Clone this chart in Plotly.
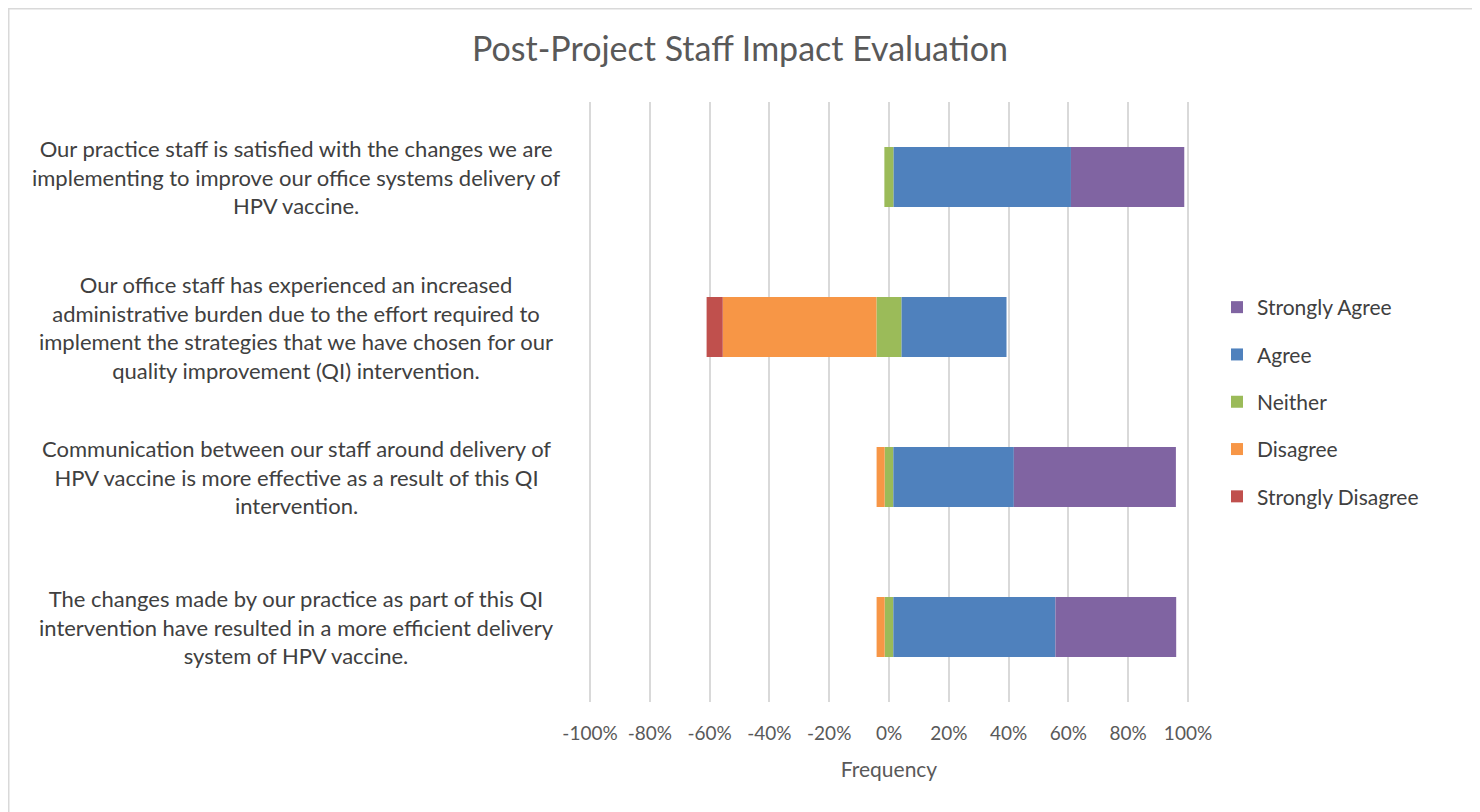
import plotly.graph_objects as go

categories = [
    "Our practice staff is satisfied with the changes we are<br>implementing to improve our office systems delivery of<br>HPV vaccine.",
    "Our office staff has experienced an increased<br>administrative burden due to the effort required to<br>implement the strategies that we have chosen for our<br>quality improvement (QI) intervention.",
    "Communication between our staff around delivery of<br>HPV vaccine is more effective as a result of this QI<br>intervention.",
    "The changes made by our practice as part of this QI<br>intervention have resulted in a more efficient delivery<br>system of HPV vaccine.",
]
keys = ["q1", "q2", "q3", "q4"]

strongly_disagree = [0.0, 5.4, 0.0, 0.0]
disagree = [0.0, 51.4, 2.7, 2.7]
neither = [3.1, 8.4, 2.9, 2.9]
agree = [59.3, 35.1, 40.3, 54.2]
strongly_agree = [37.9, 0.0, 54.2, 40.4]

tick_vals = [-100, -80, -60, -40, -20, 0, 20, 40, 60, 80, 100]
tick_text = ["-100%", "-80%", "-60%", "-40%", "-20%", "0%", "20%", "40%", "60%", "80%", "100%"]

colors = {
    "Strongly Agree": "#8064A2",
    "Agree": "#4F81BD",
    "Neither": "#9BBB59",
    "Disagree": "#F79646",
    "Strongly Disagree": "#C0504D",
}

font_family = "Lato, 'Open Sans', sans-serif"
fig = go.Figure()

def add(name, vals, rank, show=True):
    fig.add_trace(go.Bar(
        y=keys, x=vals, orientation="h", name=name,
        marker=dict(color=colors[name], line=dict(width=0)),
        legendgroup=name, showlegend=show, legendrank=rank,
    ))

# negative side (stacked outward from zero)
add("Neither", [-v / 2 for v in neither], 3, show=False)
add("Disagree", [-v for v in disagree], 4)
add("Strongly Disagree", [-v for v in strongly_disagree], 5)
# positive side
add("Neither", [v / 2 for v in neither], 3)
add("Agree", agree, 2)
add("Strongly Agree", strongly_agree, 1)

OFF = 8  # page offset of the figure (body margin)
W, H = 1480 - OFF, 812 - OFF
# plot area in page coordinates (range -101..101 so edge gridlines show)
px0, px1 = 587, 1191
py0, py1 = 102, 702
L = px0 - OFF
R = W - (px1 - OFF)
T = py0 - OFF
B = H - (py1 - OFF)
pw = W - L - R
ph = H - T - B

for k, c in zip(keys, categories):
    fig.add_annotation(
        x=(296 - px0) / pw, xref="paper", y=k, yref="y",
        text=c, showarrow=False, xanchor="center", yanchor="middle",
        align="center", font=dict(size=22, color="#404040", family=font_family),
    )

fig.add_shape(type="rect", xref="paper", yref="paper",
              x0=-L / pw + 0.5 / pw, x1=(1474 - px0) / pw,
              y0=-B / ph - 0.01, y1=(H - B) / ph - 0.5 / ph,
              line=dict(color="#d9d9d9", width=2), layer="below")

fig.update_layout(
    width=W, height=H,
    barmode="relative", bargap=0.6,
    paper_bgcolor="white", plot_bgcolor="white",
    margin=dict(l=L, r=R, t=T, b=B),
    title=dict(text="Post-Project Staff Impact Evaluation", x=(740 - OFF) / W, xanchor="center",
               xref="container", y=1 - (49 - OFF) / H, yanchor="middle",
               font=dict(size=34, color="#595959", family=font_family)),
    xaxis=dict(range=[-101, 101], tickvals=tick_vals, ticktext=tick_text,
               showgrid=True, gridcolor="#d9d9d9", gridwidth=2,
               zeroline=True, zerolinecolor="#d9d9d9", zerolinewidth=2,
               showline=False, ticks="", ticklabelstandoff=18,
               tickfont=dict(size=19, color="#595959", family=font_family),
               title=dict(text="Frequency", standoff=19,
                          font=dict(size=21, color="#595959", family=font_family))),
    yaxis=dict(categoryorder="array", categoryarray=keys, autorange="reversed",
               showticklabels=False, showgrid=False, zeroline=False, showline=False),
    legend=dict(x=(1217 - px0) / pw, xanchor="left", y=1 - (402 - py0) / ph, yanchor="middle",
                traceorder="grouped", tracegroupgap=17,
                font=dict(size=21, color="#404040", family=font_family),
                itemwidth=30),
    showlegend=True,
)

fig.write_html("out.html")
